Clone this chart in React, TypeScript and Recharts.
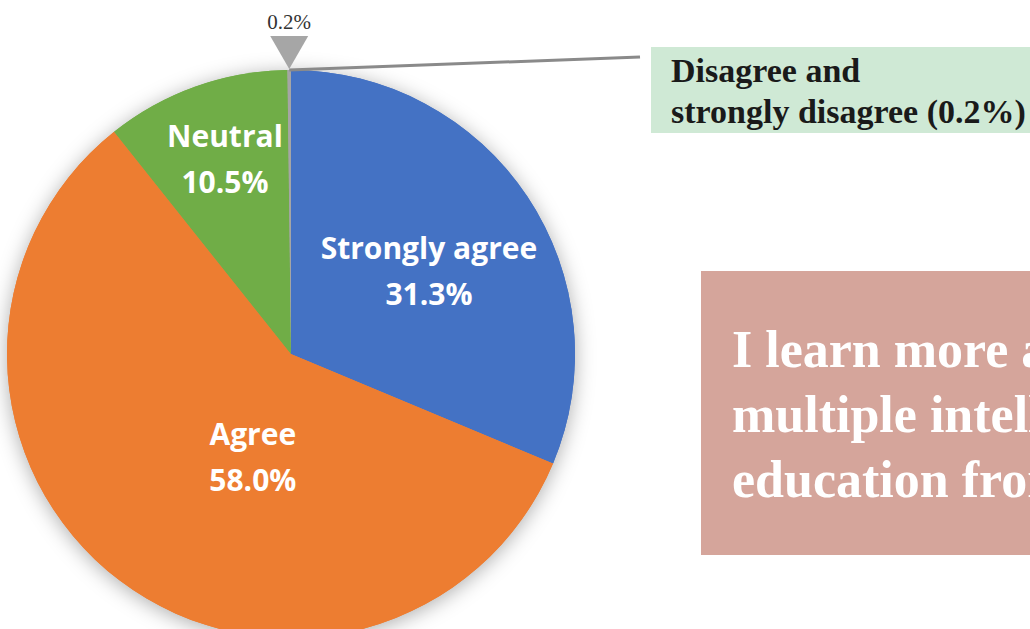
import React from 'react';
import { PieChart, Pie, Cell } from 'recharts';

const categories = ['Strongly agree', 'Agree', 'Neutral', 'Disagree and strongly disagree'];
const percentages = [31.3, 58.0, 10.5, 0.2];
const sliceColors = ['#4472C4', '#ED7D31', '#70AD47', '#A5A5A5'];
const calloutLines = ['Disagree and', 'strongly disagree (0.2%)'];
const questionLines = ['I learn more about', 'multiple intelligences', 'education from this course'];

const data = categories.map((name, i) => ({ name, value: percentages[i] }));

// label placement tweaks (radius fraction, angle shift in degrees)
const labelPlacement = [
  { rf: 0.567, da: -2.6 },
  { rf: 0.384, da: 16.6 },
  { rf: 0.725, da: -0.9 },
];

const RAD = Math.PI / 180;
const CX = 291;
const CY = 354;
const R = 284;
const MARGIN = { top: 0, right: 0, bottom: 0, left: 0 };

const renderLabel = (props: any) => {
  const { cx, cy, midAngle, outerRadius, index, value, name } = props;
  if (index === 3) {
    const x = cx + outerRadius * Math.cos(-midAngle * RAD);
    const y = cy + outerRadius * Math.sin(-midAngle * RAD);
    return (
      <g>
        <line x1={x} y1={y} x2={640} y2={57} stroke="#8a8a8a" strokeWidth={3} />
        <polygon points={`${x},${y - 1} ${x - 19},${y - 34} ${x + 19},${y - 34}`} fill="#a6a6a6" />
        <text x={x} y={y - 41} textAnchor="middle" fontFamily="'Liberation Serif', 'Times New Roman', serif" fontSize={21} fill="#333">
          {value.toFixed(1)}%
        </text>
      </g>
    );
  }
  const p = labelPlacement[index];
  const ang = (midAngle + p.da) * RAD;
  const r = outerRadius * p.rf;
  const x = cx + r * Math.cos(-ang);
  const y = cy + r * Math.sin(-ang);
  return (
    <text x={x} y={y} textAnchor="middle" fill="#fff" fontFamily="'Open Sans', sans-serif" fontWeight={700} fontSize={30}>
      <tspan x={x} y={y - 23} dominantBaseline="central">{name}</tspan>
      <tspan x={x} y={y + 23} dominantBaseline="central">{value.toFixed(1)}%</tspan>
    </text>
  );
};

export default function App() {
  return (
    <div style={{ position: 'fixed', left: 0, top: 0, width: 1030, height: 629, overflow: 'hidden', background: '#fff' }}>
      <div style={{ position: 'absolute', left: 0, top: 0, filter: 'drop-shadow(0px 3px 10px rgba(0,0,0,0.32))' }}>
        <PieChart width={1030} height={629} margin={MARGIN}>
          <Pie data={data} dataKey="value" nameKey="name" cx={CX} cy={CY} outerRadius={R} innerRadius={0}
            startAngle={90} endAngle={-270} isAnimationActive={false} stroke="none" label={false} labelLine={false}>
            {data.map((d, i) => <Cell key={d.name} fill={sliceColors[i]} />)}
          </Pie>
        </PieChart>
      </div>
      <div style={{ position: 'absolute', left: 651, top: 47, width: 400, height: 86, background: '#CFE9D5' }}>
        <div style={{ position: 'absolute', left: 20, top: 3, fontFamily: "'Liberation Serif', 'Times New Roman', serif", fontWeight: 700, fontSize: 34, lineHeight: '41px', color: '#1a1a1a', whiteSpace: 'nowrap' }}>
          {calloutLines.map((l) => <div key={l}>{l}</div>)}
        </div>
      </div>
      <div style={{ position: 'absolute', left: 701, top: 271, width: 400, height: 284, background: '#D5A59B' }}>
        <div style={{ position: 'absolute', left: 31, top: 46, fontFamily: "'Liberation Serif', 'Times New Roman', serif", fontWeight: 700, fontSize: 52, lineHeight: '65px', color: '#fff', whiteSpace: 'nowrap' }}>
          {questionLines.map((l) => <div key={l}>{l}</div>)}
        </div>
      </div>
      <div style={{ position: 'absolute', left: 0, top: 0 }}>
        <PieChart width={1030} height={629} margin={MARGIN}>
          <Pie data={data} dataKey="value" nameKey="name" cx={CX} cy={CY} outerRadius={R} innerRadius={0}
            startAngle={90} endAngle={-270} isAnimationActive={false} stroke="none" label={renderLabel} labelLine={false}>
            {data.map((d, i) => <Cell key={d.name} fill={sliceColors[i]} />)}
          </Pie>
        </PieChart>
      </div>
    </div>
  );
}
